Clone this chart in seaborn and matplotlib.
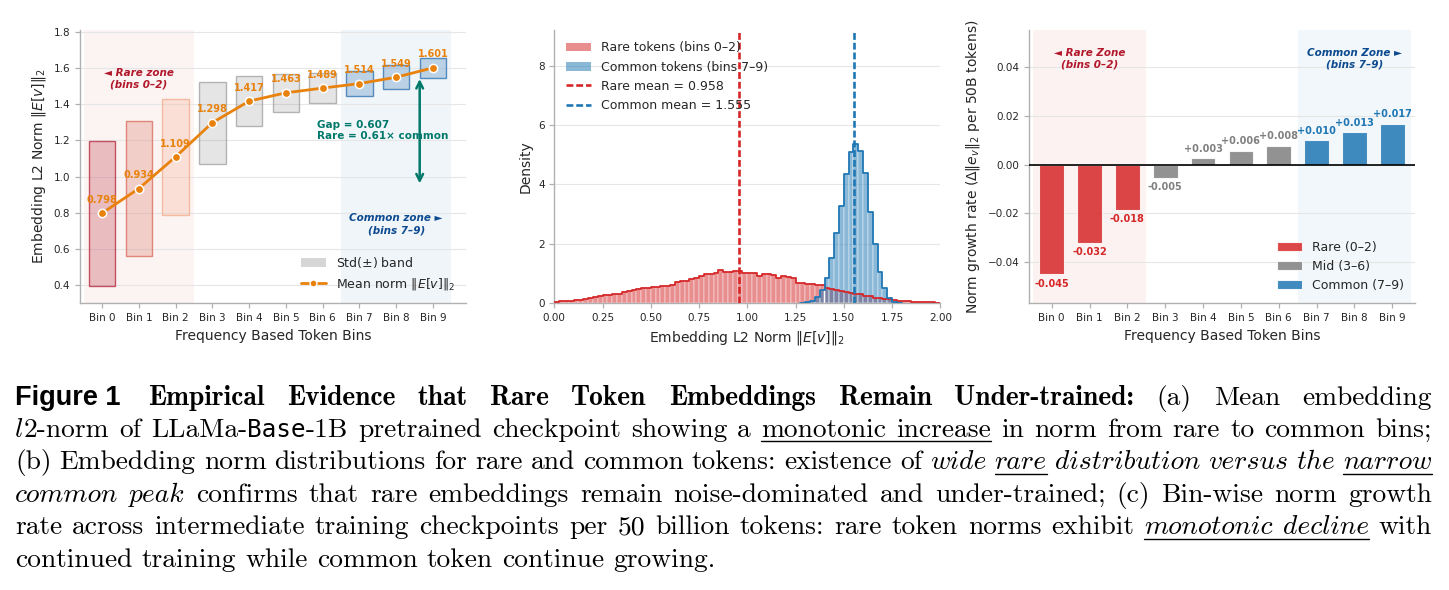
import os
import numpy as np
import pandas as pd
import matplotlib
matplotlib.use("Agg")
import matplotlib as mpl
import matplotlib.pyplot as plt
import seaborn as sns
from matplotlib.font_manager import FontProperties
from matplotlib.patches import Patch
from matplotlib.lines import Line2D
from matplotlib.colors import to_rgba

# ---------------------------------------------------------------- data
bin_labels = ["Bin 0", "Bin 1", "Bin 2", "Bin 3", "Bin 4",
              "Bin 5", "Bin 6", "Bin 7", "Bin 8", "Bin 9"]

# (a) mean embedding norm per bin and its std band
mean_norm = [0.798, 0.934, 1.109, 1.298, 1.417, 1.463, 1.489, 1.514, 1.549, 1.601]
std_norm = [0.400, 0.373, 0.320, 0.227, 0.140, 0.105, 0.085, 0.070, 0.065, 0.055]
box_colors = ["#b2182b", "#d6604d", "#f4a582", "#999999", "#999999",
              "#999999", "#999999", "#2166ac", "#2166ac", "#2166ac"]
gap_text = "Gap = 0.607\nRare = 0.61\u00d7 common"

# (b) histogram densities (bin width 0.025)
rare_edges = [round(v, 4) for v in np.linspace(0.0, 2.0, 81)]
rare_density = [0.06, 0.07, 0.07, 0.09, 0.10, 0.11, 0.15, 0.17, 0.21, 0.23,
                0.27, 0.28, 0.31, 0.30, 0.37, 0.40, 0.45, 0.47, 0.50, 0.52,
                0.55, 0.54, 0.58, 0.57, 0.63, 0.72, 0.75, 0.76, 0.82, 0.85,
                0.92, 0.98, 0.99, 1.01, 1.11, 1.07, 1.04, 1.09, 1.08, 1.01,
                1.03, 1.02, 0.93, 0.98, 0.97, 0.96, 0.84, 0.93, 0.87, 0.86,
                0.70, 0.67, 0.65, 0.66, 0.62, 0.60, 0.50, 0.48, 0.46, 0.43,
                0.38, 0.36, 0.31, 0.30, 0.25, 0.23, 0.19, 0.17, 0.15, 0.14,
                0.10, 0.09, 0.08, 0.07, 0.06, 0.06, 0.05, 0.04, 0.03, 0.02]
common_edges = [round(v, 4) for v in np.linspace(1.275, 1.8, 22)]
common_density = [0.01, 0.03, 0.07, 0.22, 0.46, 0.84, 1.54, 2.37, 3.29, 4.36,
                  5.09, 5.36, 5.13, 4.38, 3.08, 2.00, 1.07, 0.51, 0.17, 0.04, 0.01]
rare_mean = 0.958
common_mean = 1.555

# (c) norm growth rate per 50B tokens
growth_rate = [-0.0450, -0.0321, -0.0184, -0.0053, 0.0026,
               0.0057, 0.0078, 0.0099, 0.0133, 0.0168]
growth_group = ["Rare (0\u20132)"] * 3 + ["Mid (3\u20136)"] * 4 + ["Common (7\u20139)"] * 3
group_order = ["Rare (0\u20132)", "Mid (3\u20136)", "Common (7\u20139)"]

# ---------------------------------------------------------------- style
RED = "#d62728"
BLUE = "#1f77b4"
GRAY = "#7f7f7f"
ORANGE = "#e8820c"
TEAL = "#00796b"
DKRED = "#b2182b"
NAVY = "#0d4a8f"

sns.set_theme(style="ticks")
plt.rcParams["font.family"] = ["DejaVu Sans"]
plt.rcParams["mathtext.fontset"] = "dejavusans"

W, H = 1449, 590
fig = plt.figure(figsize=(W / 100, H / 100), dpi=100, facecolor="white")


def px_axes(left, top, right, bottom):
    return fig.add_axes([left / W, 1 - bottom / H, (right - left) / W, (bottom - top) / H])


def style(ax):
    sns.despine(ax=ax)
    for s in ["left", "bottom"]:
        ax.spines[s].set_color("#b0b0b0")
        ax.spines[s].set_linewidth(1.0)
    ax.tick_params(colors="#b0b0b0", labelcolor="#262626", labelsize=7.5,
                   length=3.5, width=0.9)
    ax.yaxis.grid(True, color="#e6e6e6", lw=0.8)
    ax.xaxis.grid(False)
    ax.set_axisbelow(True)


# ================================================================ (a)
axA = px_axes(80, 30, 466, 303.3)
xpos = np.arange(len(bin_labels))
axA.axvspan(-0.5, 2.5, color=RED, alpha=0.055, lw=0, zorder=0)
axA.axvspan(6.5, 9.5, color=BLUE, alpha=0.07, lw=0, zorder=0)
lo = np.array(mean_norm) - np.array(std_norm)
axA.bar(xpos, 2 * np.array(std_norm), bottom=lo, width=0.72,
        color=[to_rgba(c, 0.25) for c in box_colors],
        edgecolor=[to_rgba(c, 0.7) for c in box_colors], linewidth=1.0, zorder=2)
sns.lineplot(x=xpos, y=mean_norm, ax=axA, color=ORANGE, lw=2, marker="o",
             markersize=6, markeredgecolor="white", markeredgewidth=1.1,
             zorder=4, legend=False)
for xi, m in zip(xpos, mean_norm):
    axA.annotate(f"{m:.3f}", (xi, m), xytext=(0, 6), textcoords="offset points",
                 ha="center", va="bottom", fontsize=7, fontweight="bold",
                 color=ORANGE, zorder=5)
axA.text(1.0, 1.539, "\u25c4 Rare zone\n(bins 0\u20132)", ha="center", va="center",
         fontsize=7.5, fontweight="bold", fontstyle="italic", color=DKRED,
         linespacing=1.2)
axA.text(8.0, 0.737, "Common zone \u25ba\n(bins 7\u20139)", ha="center", va="center",
         fontsize=7.5, fontweight="bold", fontstyle="italic", color=NAVY,
         linespacing=1.2)
rare_avg = float(np.mean(mean_norm[:3]))
common_avg = float(np.mean(mean_norm[7:]))
axA.annotate("", xy=(8.64, common_avg), xytext=(8.64, rare_avg),
             arrowprops=dict(arrowstyle="<->", color=TEAL, lw=1.8), zorder=5)
axA.text(5.86, 1.254, gap_text, ha="left", va="center", fontsize=7.5,
         fontweight="bold", color=TEAL, linespacing=1.2, zorder=5)
axA.set_xlim(-0.6, 9.9)
axA.set_ylim(0.3, 1.81)
axA.set_yticks([0.4, 0.6, 0.8, 1.0, 1.2, 1.4, 1.6, 1.8])
axA.set_xticks(xpos)
axA.set_xticklabels(bin_labels)
axA.set_xlabel("Frequency Based Token Bins", fontsize=10, color="#262626")
axA.set_ylabel(r"Embedding L2 Norm $\|E[v]\|_2$", fontsize=10, color="#262626")
style(axA)
handlesA = [Patch(facecolor="#d6d6d6", edgecolor="none"),
            Line2D([0], [0], color=ORANGE, lw=2, marker="o", markersize=5,
                   markeredgecolor="white", markeredgewidth=1)]
axA.legend(handlesA, [r"Std($\pm$) band", r"Mean norm $\|E[v]\|_2$"],
           loc="lower right", frameon=False, fontsize=9)

# ================================================================ (b)
axB = px_axes(554.3, 30, 940.3, 303.3)
rare_df = pd.DataFrame({
    "norm": [(a + b) / 2 for a, b in zip(rare_edges[:-1], rare_edges[1:])],
    "density": rare_density})
common_df = pd.DataFrame({
    "norm": [(a + b) / 2 for a, b in zip(common_edges[:-1], common_edges[1:])],
    "density": common_density})
sns.histplot(data=rare_df, x="norm", weights="density", bins=rare_edges,
             stat="count", element="bars", color=RED, alpha=0.52,
             edgecolor="white", linewidth=0.3, ax=axB, zorder=2)
sns.histplot(data=common_df, x="norm", weights="density", bins=common_edges,
             stat="count", element="bars", color=BLUE, alpha=0.52,
             edgecolor="white", linewidth=0.3, ax=axB, zorder=2)
sns.histplot(data=rare_df, x="norm", weights="density", bins=rare_edges,
             stat="count", element="step", fill=False, color=RED, linewidth=1.3,
             ax=axB, zorder=3)
sns.histplot(data=common_df, x="norm", weights="density", bins=common_edges,
             stat="count", element="step", fill=False, color=BLUE, linewidth=1.3,
             ax=axB, zorder=3)
axB.axvline(rare_mean, color=RED, ls="--", lw=1.9, dashes=(2.6, 1.1), zorder=4)
axB.axvline(common_mean, color=BLUE, ls="--", lw=1.9, dashes=(2.6, 1.1), zorder=4)
axB.set_xlim(0, 2.0)
axB.set_ylim(0, 9.2)
axB.set_xticks([0, 0.25, 0.5, 0.75, 1.0, 1.25, 1.5, 1.75, 2.0])
axB.set_yticks([0, 2, 4, 6, 8])
axB.set_xlabel(r"Embedding L2 Norm $\|E[v]\|_2$", fontsize=10, color="#262626")
axB.set_ylabel("Density", fontsize=10, color="#262626")
style(axB)
handlesB = [Patch(facecolor=to_rgba(RED, 0.52), edgecolor="none"),
            Patch(facecolor=to_rgba(BLUE, 0.52), edgecolor="none"),
            Line2D([0], [0], color=RED, ls="--", lw=1.9, dashes=(2.6, 1.1)),
            Line2D([0], [0], color=BLUE, ls="--", lw=1.9, dashes=(2.6, 1.1))]
axB.legend(handlesB, ["Rare tokens (bins 0\u20132)", "Common tokens (bins 7\u20139)",
                      f"Rare mean = {rare_mean:.3f}", f"Common mean = {common_mean:.3f}"],
           loc="upper left", frameon=False, fontsize=9)

# ================================================================ (c)
axC = px_axes(1029, 30, 1415, 303.3)
axC.axvspan(-0.5, 2.5, color=RED, alpha=0.06, lw=0, zorder=0)
axC.axvspan(6.5, 9.5, color=BLUE, alpha=0.06, lw=0, zorder=0)
growth_df = pd.DataFrame({"bin": bin_labels, "rate": growth_rate, "group": growth_group})
group_colors = dict(zip(group_order, [RED, GRAY, BLUE]))
sns.barplot(data=growth_df, x="bin", y="rate", hue="group", hue_order=group_order,
            palette=group_colors, dodge=False, width=0.65, alpha=0.85, saturation=1,
            edgecolor="white", linewidth=0.8, errorbar=None, ax=axC, zorder=3)
label_colors = {"Rare (0\u20132)": RED, "Mid (3\u20136)": "#808080",
                "Common (7\u20139)": BLUE}
for xi, (v, g) in enumerate(zip(growth_rate, growth_group)):
    txt = f"+{v:.3f}" if v >= 0 else f"{v:.3f}"
    axC.annotate(txt, (xi, v), xytext=(0, 3 if v >= 0 else -3),
                 textcoords="offset points", ha="center",
                 va="bottom" if v >= 0 else "top", fontsize=7,
                 fontweight="bold", color=label_colors[g], zorder=5)
axC.axhline(0, color="black", lw=1.2, zorder=4)
axC.text(1.0, 0.0434, "\u25c4 Rare Zone\n(bins 0\u20132)", ha="center", va="center",
         fontsize=7.5, fontweight="bold", fontstyle="italic", color=DKRED,
         linespacing=1.2)
axC.text(8.0, 0.0434, "Common Zone \u25ba\n(bins 7\u20139)", ha="center", va="center",
         fontsize=7.5, fontweight="bold", fontstyle="italic", color=NAVY,
         linespacing=1.2)
axC.set_xlim(-0.6, 9.6)
axC.set_ylim(-0.0568, 0.0551)
axC.set_yticks([-0.04, -0.02, 0.0, 0.02, 0.04])
axC.set_xlabel("Frequency Based Token Bins", fontsize=10, color="#262626")
axC.set_ylabel(r"Norm growth rate ($\Delta\|e_v\|_2$ per 50B tokens)",
               fontsize=10, color="#262626")
style(axC)
axC.legend(loc="lower right", frameon=False, fontsize=9)

# ================================================================ caption
ttf = os.path.join(mpl.get_data_path(), "fonts", "ttf")
CAP = 19.8
FP = {
    "r": FontProperties(fname=os.path.join(ttf, "cmr10.ttf"), size=CAP),
    "b": FontProperties(fname=os.path.join(ttf, "cmb10.ttf"), size=CAP),
    "i": FontProperties(fname=os.path.join(ttf, "cmmi10.ttf"), size=CAP),
    "sf": FontProperties(family="Liberation Sans", weight="bold", size=19.5),
    "tt": FontProperties(family="DejaVu Sans Mono", size=17.5),
}


def words(s, st="r", ul=0):
    return [([(w, st)], ul) for w in s.split()]


cap_lines = [
    ([([("Figure 1", "sf")], 0)]
     + words("Empirical Evidence that Rare Token Embeddings Remain Under-trained:", "b")
     + words("(a) Mean embedding"), True),
    ([([("l", "i"), ("2-norm", "r")], 0)] + words("of")
     + [([("LLaMa-", "r"), ("Base", "tt"), ("-1B", "r")], 0)]
     + words("pretrained checkpoint showing a")
     + [([("monotonic", "r")], 2), ([("increase", "r")], 1)]
     + words("in norm from rare to common bins;"), True),
    (words("(b) Embedding norm distributions for rare and common tokens: existence of")
     + words("wide", "i") + words("rare", "i", 1)
     + words("distribution versus the", "i") + words("narrow", "i", 1), True),
    (words("common peak", "i")
     + words("confirms that rare embeddings remain noise-dominated and "
             "under-trained; (c) Bin-wise norm growth"), True),
    (words("rate across intermediate training checkpoints per 50 billion tokens: "
           "rare token norms exhibit")
     + [([("monotonic", "i")], 2), ([("decline", "i")], 1)] + words("with"), True),
    (words("continued training while common token continue growing."), False),
]
baselines = [405.0, 436.7, 469.3, 501.7, 534.3, 566.7]
X0, X1 = 15.0, 1432.0
renderer = fig.canvas.get_renderer()
space_px = 0.333 * CAP * 100 / 72

for (line, justify), yb in zip(cap_lines, baselines):
    built = []
    for runs, ul in line:
        arts = []
        wsum = 0.0
        for t, st in runs:
            a = fig.text(0, 1 - yb / H, t, fontproperties=FP[st], va="baseline",
                         ha="left", color="black")
            w = a.get_window_extent(renderer).width
            arts.append((a, w))
            wsum += w
        built.append((arts, wsum, ul))
    total = sum(b[1] for b in built)
    extra = 5.0 if line[0][0][0][1] == "sf" else 0.0
    n_gaps = len(built) - 1
    gap = (X1 - X0 - total - extra) / n_gaps if justify else space_px
    x = X0
    ul_start = None
    for k, (arts, wsum, ul) in enumerate(built):
        wx0 = x
        for a, w in arts:
            a.set_x(x / W)
            x += w
        if ul:
            if ul_start is None:
                ul_start = wx0
            if ul == 1:
                yy = 1 - (yb + 4.5) / H
                fig.add_artist(Line2D([ul_start / W, x / W], [yy, yy],
                                      transform=fig.transFigure, color="black", lw=1.0))
                ul_start = None
        x += gap + (extra if k == 0 else 0.0)

fig.savefig("out.png", dpi=100, facecolor="white")
